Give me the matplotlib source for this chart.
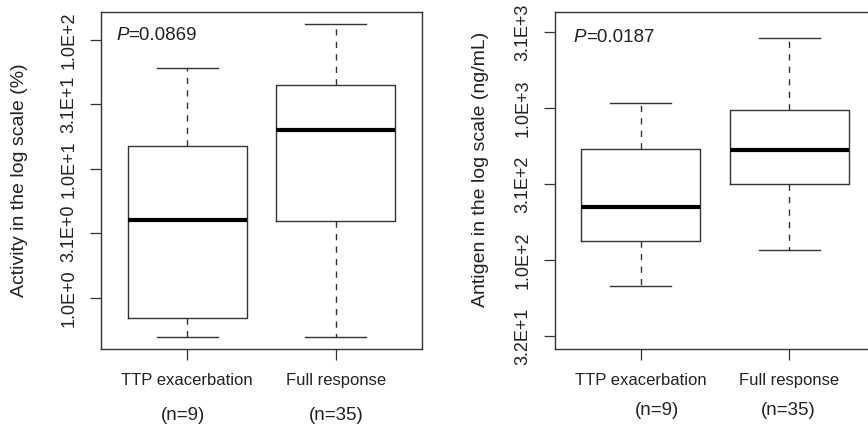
import matplotlib.pyplot as plt
from matplotlib.ticker import NullLocator
from matplotlib.transforms import blended_transform_factory

plt.rcParams['font.family'] = ['Liberation Sans Narrow', 'Liberation Sans', 'DejaVu Sans']

groups = ["TTP exacerbation", "Full response"]
n_labels = ["(n=9)", "(n=35)"]

# activity (%)
act_whislo = [0.50, 0.50]
act_q1 = [0.70, 3.93]
act_med = [4.0, 19.9]
act_q3 = [15.1, 44.6]
act_whishi = [60.7, 133]

# antigen (ng/mL)
ag_whislo = [67, 116]
ag_q1 = [134, 316]
ag_med = [224, 532]
ag_q3 = [540, 980]
ag_whishi = [1084, 2901]

act_ticks = [1, 3.162, 10, 31.62, 100]
act_ticklabels = ["1.0E+0", "3.1E+0", "1.0E+1", "3.1E+1", "1.0E+2"]
ag_ticks = [31.62, 100, 316.2, 1000, 3162]
ag_ticklabels = ["3.2E+1", "1.0E+2", "3.1E+2", "1.0E+3", "3.1E+3"]

line_col = "#333333"
text_col = "#222222"


def make_stats(lo, q1, med, q3, hi):
    return [dict(whislo=lo[i], q1=q1[i], med=med[i], q3=q3[i], whishi=hi[i], fliers=[])
            for i in range(len(med))]


def draw_panel(ax, stats, ticks, ticklabels, ylim, ylabel, ylab_y, ptext, p_xy, n_x, n_y):
    ax.set_yscale("log")
    ax.bxp(stats, positions=[1, 2], widths=0.8, capwidths=0.41, showfliers=False,
           boxprops=dict(color=line_col, lw=1.0),
           whiskerprops=dict(color=line_col, lw=1.0, linestyle=(0, (4.5, 4.5))),
           capprops=dict(color=line_col, lw=1.0),
           medianprops=dict(color="black", lw=3.0, solid_capstyle="butt"))
    ax.set_xlim(0.42, 2.58)
    ax.set_ylim(*ylim)
    ax.set_yticks(ticks)
    ax.set_yticklabels(ticklabels, rotation=90, va="center")
    ax.yaxis.set_minor_locator(NullLocator())
    ax.set_xticks([1, 2])
    ax.set_xticklabels(groups)
    ax.tick_params(length=7.7, width=0.9, color=line_col, labelcolor=text_col)
    ax.tick_params(axis="y", labelsize=13, pad=9)
    ax.tick_params(axis="x", labelsize=12, pad=9)
    for s in ax.spines.values():
        s.set_color(line_col)
        s.set_linewidth(1.0)
    ax.set_ylabel(ylabel, fontsize=14, color=text_col, va="center")
    ax.yaxis.set_label_coords(ylab_y[0], ylab_y[1])
    pt = ax.text(p_xy[0], p_xy[1], "P", style="italic", fontsize=13.5, color=text_col,
                 transform=ax.transAxes, va="center", ha="left")
    ax.annotate(ptext, xy=(1, 0), xycoords=pt, va="bottom", ha="left",
                fontsize=13.5, color=text_col)
    tr = blended_transform_factory(ax.transData, ax.transAxes)
    for x, lab in zip(n_x, n_labels):
        ax.text(x, n_y, lab, transform=tr, ha="center", va="center",
                fontsize=13.5, color=text_col, clip_on=False)


fig = plt.figure(figsize=(8.68, 4.26), dpi=100)
ax1 = fig.add_axes([0.1164, 0.180, 0.3698, 0.792])
ax2 = fig.add_axes([0.639, 0.180, 0.3698, 0.792])

draw_panel(ax1, make_stats(act_whislo, act_q1, act_med, act_q3, act_whishi),
           act_ticks, act_ticklabels, (0.40, 164.8),
           "Activity in the log scale (%)", (-0.255, 0.5),
           "=0.0869", (0.047, 0.930), [0.97, 2.0], -0.195)
draw_panel(ax2, make_stats(ag_whislo, ag_q1, ag_med, ag_q3, ag_whishi),
           ag_ticks, ag_ticklabels, (25.8, 4305),
           "Antigen in the log scale (ng/mL)", (-0.23, 0.534),
           "=0.0187", (0.06, 0.924), [1.11, 1.99], -0.18)

fig.savefig("out.png", dpi=100)
